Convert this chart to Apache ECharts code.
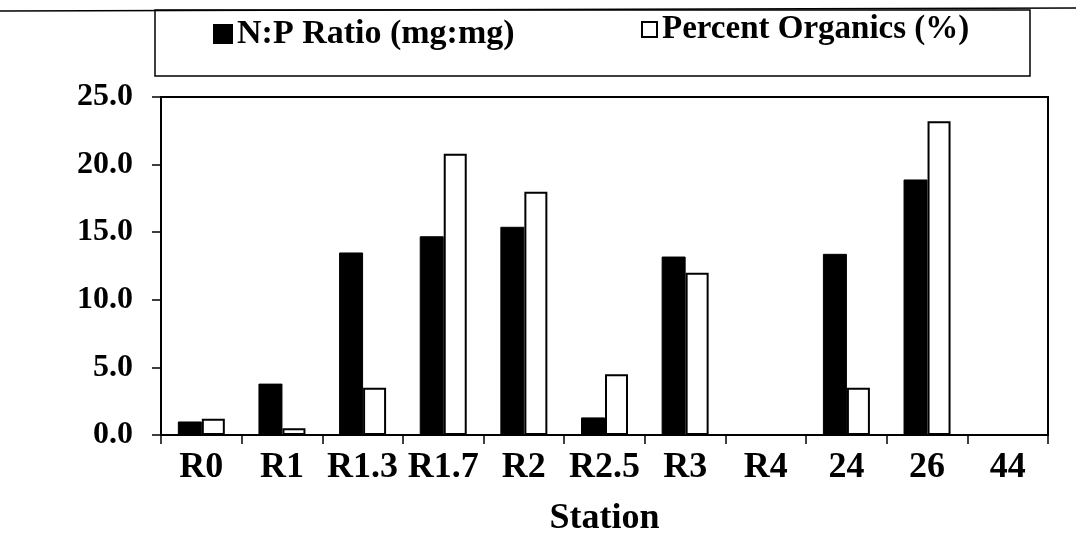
<!DOCTYPE html>
<html>
<head>
<meta charset="utf-8">
<script src="https://cdn.jsdelivr.net/npm/echarts@6/dist/echarts.min.js"></script>
<style>
    html, body { margin: 0; padding: 0; background: #fff; }
    #chart { width: 1076px; height: 542px; }
</style>
</head>
<body>
<div id="chart"></div>
<script>
// values
var stations = ['R0', 'R1', 'R1.3', 'R1.7', 'R2', 'R2.5', 'R3', 'R4', '24', '26', '44'];
var npRatio  = [1.0, 3.8, 13.5, 14.7, 15.4, 1.3, 13.2, null, 13.4, 18.9, null];
var organics = [1.2, 0.5, 3.5, 20.8, 18.0, 4.5, 12.0, null, 3.5, 23.2, null];
var yMin = 0, yMax = 25, yStep = 5;

var font = 'Liberation Serif';
var chart = echarts.init(document.getElementById('chart'));

var option = {
    backgroundColor: '#fff',
    animation: false,
    textStyle: { fontFamily: font, fontWeight: 'bold', color: '#000' },
    legend: [{
        data: [{ name: 'N:P Ratio (mg:mg)', icon: 'rect' }],
        left: 208, top: 12,
        itemWidth: 18, itemHeight: 18,
        itemGap: 4,
        textStyle: { fontFamily: font, fontWeight: 'bold', fontSize: 34, color: '#000' }
    }, {
        data: [{ name: 'Percent Organics (%)', icon: 'rect' }],
        left: 636, top: 8,
        itemWidth: 15, itemHeight: 15,
        itemGap: 6,
        itemStyle: { borderColor: '#000', borderWidth: 2 },
        textStyle: { fontFamily: font, fontWeight: 'bold', fontSize: 33, color: '#000' }
    }],
    graphic: [
        // legend frame and the long rule across the page top
        { type: 'line', shape: { x1: 0, y1: 11, x2: 1076, y2: 8 }, style: { stroke: '#000', lineWidth: 1.5 } },
        { type: 'rect', shape: { x: 155, y: 10, width: 875, height: 66 }, style: { fill: 'none', stroke: '#000', lineWidth: 1.5 } }
    ],
    grid: {
        left: 161, right: 28, top: 97, bottom: 100,
        show: true, borderColor: '#000', borderWidth: 2
    },
    xAxis: {
        type: 'category',
        data: stations,
        name: 'Station',
        nameLocation: 'middle',
        nameGap: 66,
        nameTextStyle: { fontFamily: font, fontWeight: 'bold', fontSize: 36, color: '#000' },
        axisLine: { lineStyle: { color: '#000', width: 2 } },
        axisTick: { show: true, length: 9, lineStyle: { color: '#000', width: 1.5 } },
        axisLabel: { interval: 0, margin: 15, fontFamily: font, fontWeight: 'bold', fontSize: 36, color: '#000' },
        splitLine: { show: false }
    },
    yAxis: {
        type: 'value',
        min: yMin, max: yMax, interval: yStep,
        axisLine: { show: true, lineStyle: { color: '#000', width: 2 } },
        axisTick: { show: true, length: 9, lineStyle: { color: '#000', width: 1.5 } },
        axisLabel: {
            margin: 28, fontFamily: font, fontWeight: 'bold', fontSize: 32, color: '#000',
            formatter: function (v) { return v.toFixed(1); }
        },
        splitLine: { show: false }
    },
    series: [{
        name: 'N:P Ratio (mg:mg)',
        type: 'bar',
        data: npRatio,
        barWidth: 24,
        barGap: '0%',
        itemStyle: { color: '#000', borderColor: '#000', borderWidth: 1 }
    }, {
        name: 'Percent Organics (%)',
        type: 'bar',
        data: organics,
        barWidth: 23,
        itemStyle: { color: '#fff', borderColor: '#000', borderWidth: 2 }
    }]
};

chart.setOption(option);
</script>
</body>
</html>
